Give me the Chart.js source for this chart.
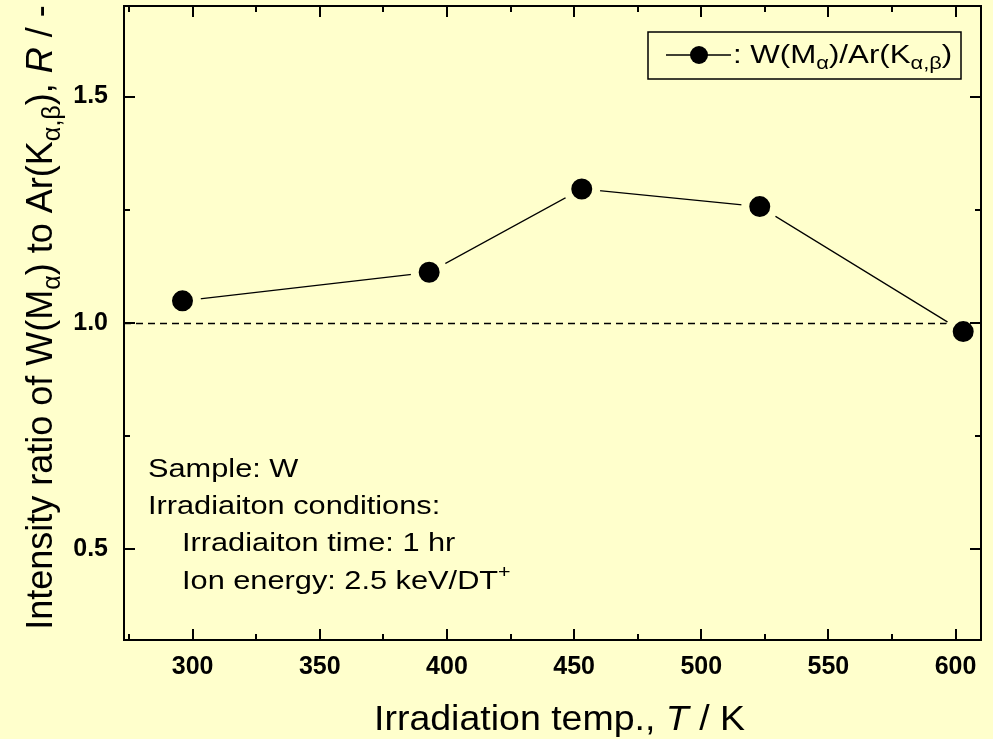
<!DOCTYPE html>
<html lang="en">
<head>
    <meta charset="UTF-8">
    <title>Intensity ratio vs irradiation temperature</title>
    <script src="https://cdn.jsdelivr.net/npm/chart.js"></script>
    <style>
        html, body { margin: 0; padding: 0; background: #ffffcc; }
        #wrap { width: 993px; height: 739px; }
    </style>
</head>
<body>
    <div id="wrap"><canvas id="ratioChart" width="993" height="739"></canvas></div>

    <script>
        // measured points
        const TEMPS = [296, 393, 453, 523, 603];
        const RATIOS = [1.049, 1.112, 1.296, 1.257, 0.981];

        // axis ticks
        const X_TICKS = [300, 350, 400, 450, 500, 550, 600];
        const Y_TICKS = [0.5, 1.0, 1.5];
        const X_RANGE = [273, 610];
        const Y_RANGE = [0.3, 1.7];
        const REF_LEVEL = 1.0;

        // notes inside the plot
        const NOTE_LINES = [
            { indent: 0, runs: [{ t: 'Sample: W' }] },
            { indent: 0, runs: [{ t: 'Irradiaiton conditions:' }] },
            { indent: 1, runs: [{ t: 'Irradiaiton time: 1 hr' }] },
            { indent: 1, runs: [{ t: 'Ion energy: 2.5 keV/DT' }, { t: '+', sup: true }] }
        ];

        const LEGEND_RUNS = [
            { t: ': W(M' }, { t: 'α', sub: true }, { t: ')/Ar(K' }, { t: 'α,β', sub: true }, { t: ')' }
        ];
        const X_TITLE = [
            { t: 'Irradiation temp., ' }, { t: 'T', it: true }, { t: ' / K' }
        ];
        const Y_TITLE = [
            { t: 'Intensity ratio of W(M' }, { t: 'α', sub: true }, { t: ') to Ar(K' },
            { t: 'α,β', sub: true }, { t: '), ' }, { t: 'R', it: true }, { t: ' / -' }
        ];

        const BG = '#ffffcc';
        const FONT = '"Liberation Sans", Arial, sans-serif';

        function runFont(r, size) {
            const s = (r.sub || r.sup) ? size * 0.7 : size;
            return (r.it ? 'italic ' : '') + s + 'px ' + FONT;
        }

        function richWidth(ctx, runs, size) {
            let w = 0;
            runs.forEach(r => { ctx.font = runFont(r, size); w += ctx.measureText(r.t).width; });
            return w;
        }

        // draws a run list from (x, y) as baseline start, stretched by sx horizontally
        function drawRich(ctx, runs, x, y, size, sx) {
            ctx.save();
            ctx.translate(x, y);
            ctx.scale(sx, 1);
            let cx = 0;
            ctx.textBaseline = 'alphabetic';
            ctx.textAlign = 'left';
            runs.forEach(r => {
                ctx.font = runFont(r, size);
                let dy = 0;
                if (r.sub) dy = size * 0.22;
                if (r.sup) dy = -size * 0.4;
                ctx.fillText(r.t, cx, dy);
                cx += ctx.measureText(r.t).width;
            });
            ctx.restore();
        }

        const backdrop = {
            id: 'backdrop',
            beforeDraw(chart) {
                const ctx = chart.ctx;
                ctx.save();
                ctx.fillStyle = BG;
                ctx.fillRect(0, 0, chart.width, chart.height);
                ctx.restore();
            }
        };

        // dashed line at R = 1
        const refLine = {
            id: 'refLine',
            beforeDatasetsDraw(chart) {
                const { ctx, chartArea: a, scales } = chart;
                const y = Math.round(scales.y.getPixelForValue(REF_LEVEL)) + 0.5;
                ctx.save();
                ctx.strokeStyle = '#000';
                ctx.lineWidth = 1.5;
                ctx.setLineDash([7, 5]);
                ctx.beginPath();
                ctx.moveTo(a.left, y);
                ctx.lineTo(a.right, y);
                ctx.stroke();
                ctx.restore();
            }
        };

        // box frame, inward ticks, legend, notes and axis titles
        const decorations = {
            id: 'decorations',
            afterDatasetsDraw(chart) {
                const { ctx, chartArea: a, scales } = chart;
                const xs = scales.x, ys = scales.y;
                ctx.save();
                ctx.strokeStyle = '#000';
                ctx.fillStyle = '#000';
                ctx.lineWidth = 2;
                ctx.strokeRect(a.left, a.top, a.right - a.left, a.bottom - a.top);

                ctx.beginPath();
                for (let v = 275; v <= X_RANGE[1]; v += 25) {
                    const len = (v % 50 === 0) ? 11 : 6;
                    const px = Math.round(xs.getPixelForValue(v));
                    ctx.moveTo(px, a.bottom); ctx.lineTo(px, a.bottom - len);
                    ctx.moveTo(px, a.top); ctx.lineTo(px, a.top + len);
                }
                for (let k = 2; k <= 6; k++) {
                    const v = k * 0.25;
                    if (v < Y_RANGE[0] || v > Y_RANGE[1]) continue;
                    const len = (k % 2 === 0) ? 11 : 6;
                    const py = Math.round(ys.getPixelForValue(v));
                    ctx.moveTo(a.left, py); ctx.lineTo(a.left + len, py);
                    ctx.moveTo(a.right, py); ctx.lineTo(a.right - len, py);
                }
                ctx.stroke();

                // legend box
                ctx.lineWidth = 1.5;
                ctx.fillStyle = BG;
                ctx.fillRect(648, 32, 313, 47);
                ctx.strokeRect(648, 32, 313, 47);
                ctx.fillStyle = '#000';
                ctx.lineWidth = 1.3;
                ctx.beginPath();
                ctx.moveTo(666, 55); ctx.lineTo(731, 55);
                ctx.stroke();
                ctx.beginPath();
                ctx.arc(699, 55, 9, 0, Math.PI * 2);
                ctx.fill();
                drawRich(ctx, LEGEND_RUNS, 733, 63, 25, 1.25);

                // notes
                const noteY = [477, 514, 551, 589];
                NOTE_LINES.forEach((line, i) => {
                    drawRich(ctx, line.runs, line.indent ? 182 : 148, noteY[i], 26.5, 1.16);
                });

                // x axis title
                const xsx = 1.087;
                const xw = richWidth(ctx, X_TITLE, 34.5) * xsx;
                drawRich(ctx, X_TITLE, 559.5 - xw / 2, 730, 34.5, xsx);

                // y axis title
                const yw = richWidth(ctx, Y_TITLE, 36);
                ctx.save();
                ctx.translate(52, 317.5 + yw / 2);
                ctx.rotate(-Math.PI / 2);
                drawRich(ctx, Y_TITLE, 0, 0, 36, 1);
                ctx.restore();

                ctx.restore();
            }
        };

        const tickFont = { family: FONT, size: 25, weight: 'bold' };

        new Chart(document.getElementById('ratioChart').getContext('2d'), {
            type: 'line',
            data: {
                datasets: [{
                    label: 'W(Mα)/Ar(Kα,β)',
                    data: TEMPS.map((t, i) => ({ x: t, y: RATIOS[i] })),
                    borderColor: '#000',
                    borderWidth: 1.3,
                    backgroundColor: '#000',
                    pointBackgroundColor: '#000',
                    pointBorderColor: BG,
                    pointBorderWidth: 8,
                    pointRadius: 14.5,
                    tension: 0,
                    fill: false,
                    clip: false
                }]
            },
            options: {
                responsive: false,
                animation: false,
                devicePixelRatio: 1,
                layout: { autoPadding: false, padding: { top: 6, right: 12, left: 0, bottom: 0 } },
                plugins: {
                    legend: { display: false },
                    tooltip: { enabled: false }
                },
                scales: {
                    x: {
                        type: 'linear',
                        min: X_RANGE[0],
                        max: X_RANGE[1],
                        afterBuildTicks: s => { s.ticks = X_TICKS.map(v => ({ value: v })); },
                        afterFit: s => {
                            s.height = 99;
                            s.paddingLeft = 0; s.paddingRight = 0;
                            s.paddingTop = 0; s.paddingBottom = 0;
                        },
                        grid: { display: false },
                        border: { display: false },
                        ticks: { font: tickFont, color: '#000', padding: 4, maxRotation: 0, callback: v => String(v) }
                    },
                    y: {
                        min: Y_RANGE[0],
                        max: Y_RANGE[1],
                        afterBuildTicks: s => { s.ticks = Y_TICKS.map(v => ({ value: v })); },
                        afterFit: s => {
                            s.width = 124;
                            s.paddingLeft = 0; s.paddingRight = 0;
                            s.paddingTop = 0; s.paddingBottom = 0;
                        },
                        grid: { display: false },
                        border: { display: false },
                        ticks: { font: tickFont, color: '#000', padding: 8, callback: v => v.toFixed(1) }
                    }
                }
            },
            plugins: [backdrop, refLine, decorations]
        });
    </script>
</body>
</html>
